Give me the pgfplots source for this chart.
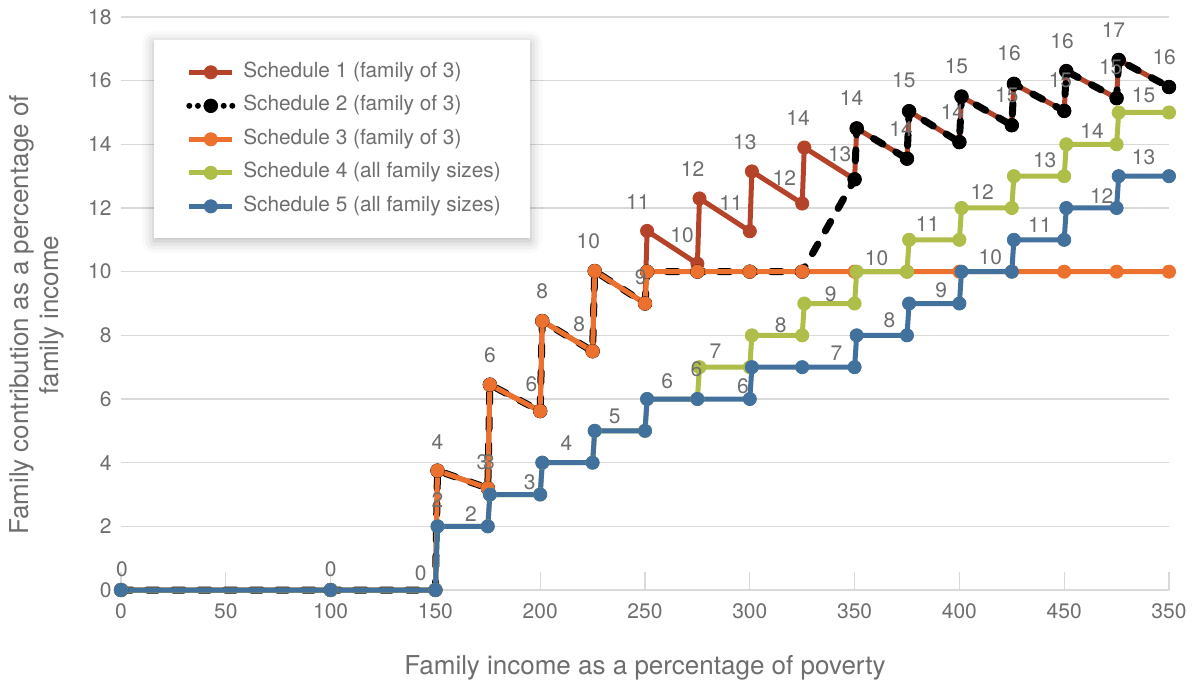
\documentclass[border=0pt]{standalone}
\usepackage{fontspec}
\setmainfont{TeX Gyre Heros}
\usepackage{pgfplots}
\pgfplotsset{compat=1.18}
\usetikzlibrary{shadows.blur}
\definecolor{sred}{RGB}{181,67,41}
\definecolor{sorange}{RGB}{236,113,46}
\definecolor{sgreen}{RGB}{174,190,73}
\definecolor{sblue}{RGB}{67,113,158}
\definecolor{textgray}{RGB}{110,110,110}
\definecolor{gridgray}{RGB}{217,217,217}
\pgfplotsset{blackleg/.style={legend image code/.code={\draw[##1, line width=3pt, dash pattern=on 0pt off 4.3pt, mark repeat=2, mark phase=2] plot coordinates {(0pt,0pt) (10.75pt,0pt) (21.5pt,0pt)};}}}
\begin{document}
\begin{tikzpicture}
\begin{axis}[name=ax, scale only axis, width=524pt, height=286.5pt,
  xmin=0, xmax=500, ymin=0, ymax=18, clip=false,
  axis line style={draw=none},
  xtick={0,50,...,500},
  xticklabels={0,50,100,150,200,250,300,350,400,450,350},
  ytick={0,2,...,18},
  xtick pos=bottom, ytick pos=left, tick align=inside,
  major tick length=9pt,
  xtick style={draw=gridgray, line width=0.6pt},
  ytick style={draw=none},
  ymajorgrids, major grid style={draw=gridgray, line width=0.6pt},
  tick label style={font=\fontsize{10.5}{12}\selectfont, text=textgray},
  /pgf/number format/assume math mode=true,
  yticklabel style={anchor=east, inner sep=0pt, xshift=-4.5pt},
  xticklabel style={anchor=north, inner sep=0pt, yshift=-6.5pt},
  xlabel={Family income as a percentage of poverty},
  ylabel={Family contribution as a percentage of\\family income},
  label style={font=\fontsize{13}{15}\selectfont, text=textgray},
  xlabel style={at={(axis description cs:0.5,-0.136)}, anchor=center},
  ylabel style={at={(axis description cs:-0.08,0.48)}, anchor=center, align=center},
  legend style={at={(0.0295,0.96)}, anchor=north west, draw=none, fill=none,
    inner xsep=17pt, inner ysep=11pt, font=\fontsize{10.4}{12}\selectfont, text=textgray,
    row sep=6.75pt, column sep=4pt,
    nodes={inner sep=0pt, text height=7.5pt, text depth=2.5pt}},
  legend cell align=left,
  legend image code/.code={\draw[mark repeat=2,mark phase=2,#1] plot coordinates {(0pt,0pt) (10.75pt,0pt) (21.5pt,0pt)};},
  every axis plot/.append style={line join=round},
]
% Schedule 1
\addplot[color=sred, line width=2.5pt, mark=*, mark size=3.3pt, mark options={solid, line width=0.4pt}] table {
x y
0 0
100 0
150 0
151 3.75
175 3.2
176 6.45
200 5.62
201 8.45
225 7.5
226 10.02
250 9.0
251 11.28
275 10.25
276 12.3
300 11.27
301 13.15
325 12.14
326 13.9
350 12.9
351 14.5
375 13.55
376 15.04
400 14.07
401 15.5
425 14.6
426 15.9
450 15.05
451 16.3
475 15.45
476 16.65
500 15.8
};
\addlegendentry{Schedule 1 (family of 3)}
% Schedule 2
\addplot[color=black, line width=3.5pt, line cap=round, dash pattern=on 5.5pt off 7.5pt, mark=*, mark size=3.4pt, mark options={solid, line width=0.4pt}, blackleg] table {
x y
0 0
100 0
150 0
151 3.75
175 3.2
176 6.45
200 5.62
201 8.45
225 7.5
226 10.02
250 9.0
251 10
275 10
300 10
325 10
350 12.9
351 14.5
375 13.55
376 15.04
400 14.07
401 15.5
425 14.6
426 15.9
450 15.05
451 16.3
475 15.45
476 16.65
500 15.8
};
\addlegendentry{Schedule 2 (family of 3)}
% Schedule 3
\addplot[color=sorange, line width=2.5pt, mark=*, mark size=3.3pt, mark options={solid, line width=0.4pt}] table {
x y
0 0
100 0
150 0
151 3.75
175 3.2
176 6.45
200 5.62
201 8.45
225 7.5
226 10.02
250 9.0
251 10
275 10
300 10
325 10
350 10
375 10
400 10
425 10
450 10
475 10
500 10
};
\addlegendentry{Schedule 3 (family of 3)}
% Schedule 4
\addplot[color=sgreen, line width=2.5pt, mark=*, mark size=3.3pt, mark options={solid, line width=0.4pt}] table {
x y
0 0
100 0
150 0
151 2
175 2
176 3
200 3
201 4
225 4
226 5
250 5
251 6
275 6
276 7
300 7
301 8
325 8
326 9
350 9
351 10
375 10
376 11
400 11
401 12
425 12
426 13
450 13
451 14
475 14
476 15
500 15
};
\addlegendentry{Schedule 4 (all family sizes)}
% Schedule 5
\addplot[color=sblue, line width=2.5pt, mark=*, mark size=3.3pt, mark options={solid, line width=0.4pt}] table {
x y
0 0
100 0
150 0
151 2
175 2
176 3
200 3
201 4
225 4
226 5
250 5
251 6
275 6
300 6
301 7
325 7
350 7
351 8
375 8
376 9
400 9
401 10
425 10
426 11
450 11
451 12
475 12
476 13
500 13
};
\addlegendentry{Schedule 5 (all family sizes)}
% data labels
\addplot[draw=none, mark=none, forget plot, nodes near coords, point meta=explicit symbolic,
  nodes near coords style={anchor=center, inner sep=0pt, font=\fontsize{10.5}{12}\selectfont, text=textgray}]
  table[meta=lab] {
x y lab
0.5 0.66 0
100 0.66 0
143 0.53 0
151 4.66 4
151 2.82 2
167 2.4 2
172.5 4.03 3
175.5 4.03 3
195 3.4 3
212.5 4.61 4
235.6 5.45 5
176 7.37 6
195.8 6.45 6
201 9.38 8
218.6 8.35 8
223 10.97 10
248 9.84 9
246.6 12.19 11
260.6 6.56 6
267.7 11.14 10
272.7 13.21 12
274.6 6.95 6
283.6 7.5 7
291 12.16 11
296.7 6.4 6
297.6 14.07 13
314.8 8.32 8
316.5 12.95 12
323 14.82 14
338.6 9.29 9
341.4 7.43 7
342.9 13.68 13
348.6 15.44 14
360.5 10.41 10
366.6 8.48 8
372.2 14.47 14
373.5 16.0 15
384.8 11.5 11
391.3 9.43 9
396.7 15.0 14
398.6 16.44 15
410.9 12.49 12
414.8 10.45 10
422.6 15.53 15
423.7 16.87 16
438.4 11.45 11
440.7 13.5 13
448.2 16.0 15
449 17.23 16
463.3 14.42 14
467.9 12.39 12
472.2 16.42 15
473.5 17.58 17
487.9 15.55 15
487.9 13.58 13
497.7 16.74 16
};
% legend box with soft shadow (drawn before the legend entries)
\fill[white, blur shadow={shadow xshift=0pt, shadow yshift=-1.5pt, shadow blur radius=6pt, shadow opacity=30}]
  (rel axis cs:0.0315,0.9599) rectangle (rel axis cs:0.3903,0.6143);
\end{axis}
\path[use as bounding box] ([xshift=-60.5pt, yshift=-47pt]ax.south west) rectangle ([xshift=12pt, yshift=8.5pt]ax.north east);
\end{tikzpicture}
\end{document}
